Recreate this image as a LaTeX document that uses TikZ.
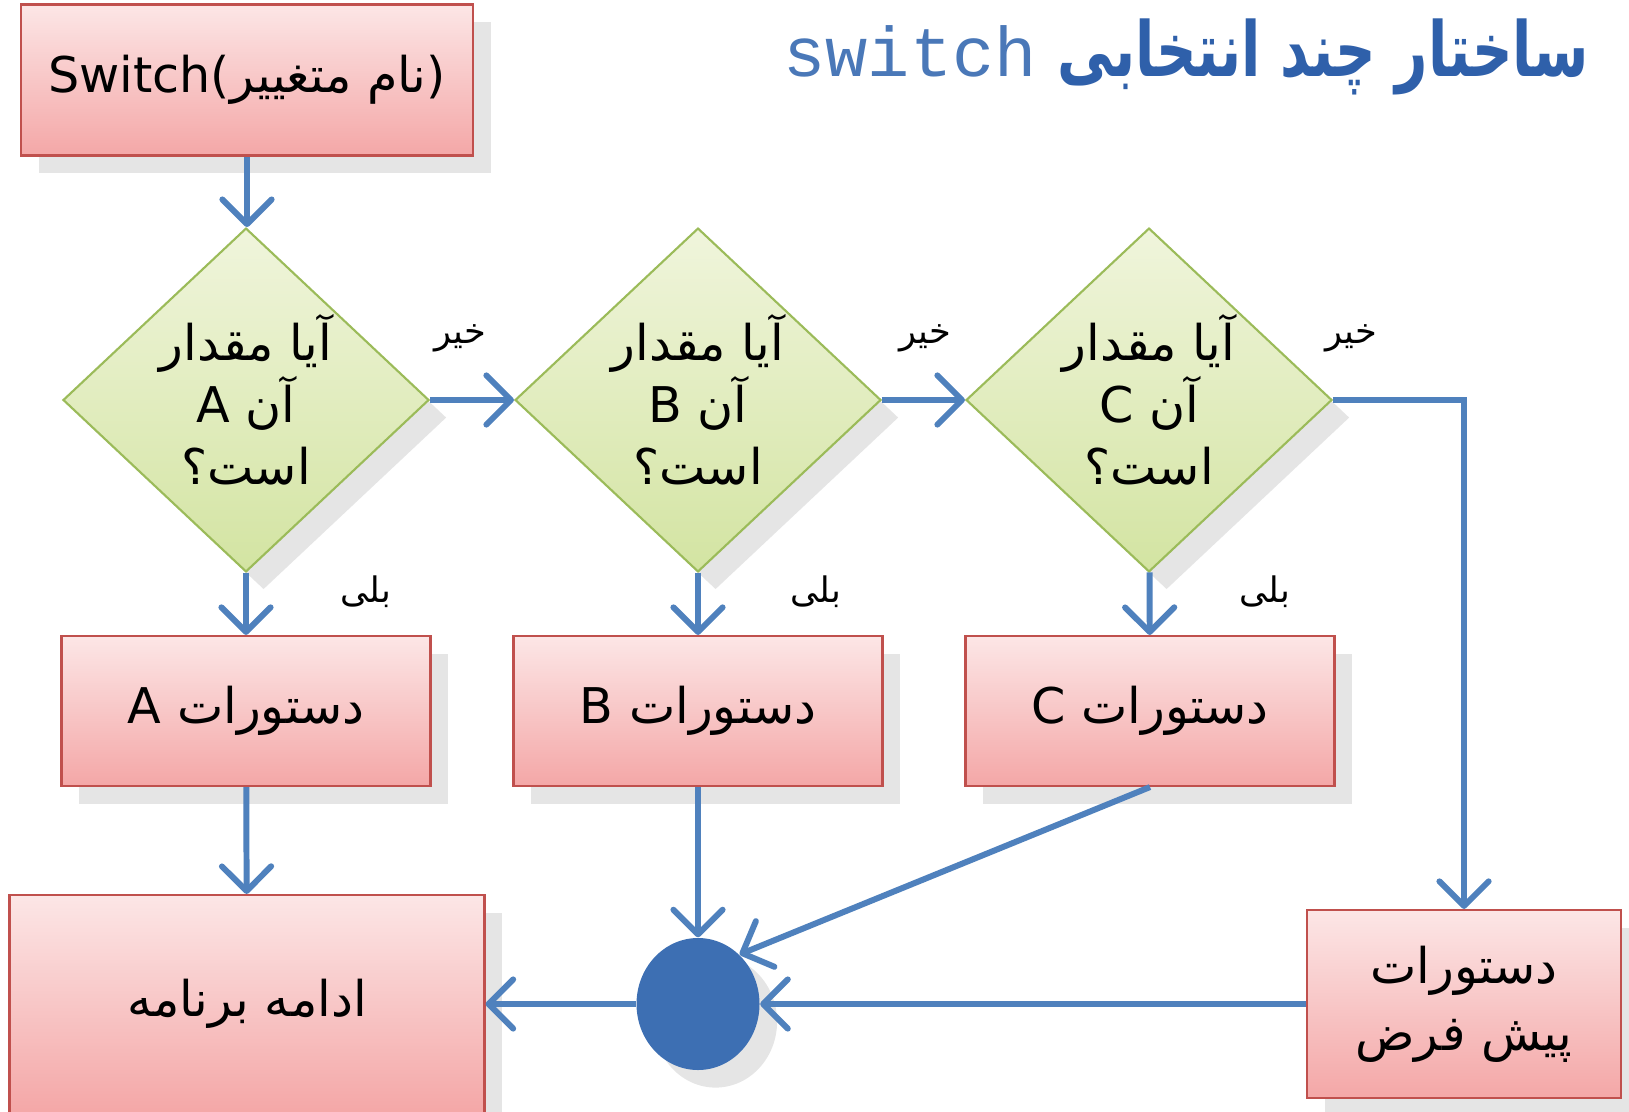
\documentclass[tikz,border=0pt]{standalone}
\usepackage{fontspec}
\setmainfont{DejaVu Sans}
\setmonofont{Liberation Mono}
\newfontfamily\fafont[Script=Arabic]{DejaVu Sans}
\TeXXeTstate=1
\usetikzlibrary{shapes.geometric,arrows.meta,shadows,positioning}

\definecolor{boxtop}{HTML}{FCE6E6}
\definecolor{boxbot}{HTML}{F4A7A7}
\definecolor{boxline}{HTML}{C0504D}
\definecolor{dectop}{HTML}{F0F5DC}
\definecolor{decbot}{HTML}{D3E4A2}
\definecolor{decline}{HTML}{9BBB59}
\definecolor{flowblue}{HTML}{4F81BD}
\definecolor{joinblue}{HTML}{3D6FB3}
\definecolor{titleblue}{HTML}{2F60AA}
\definecolor{monoblue}{HTML}{4A78B8}

\tikzset{
  stepbox/.style={rectangle,draw=boxline,line width=0.6pt,top color=boxtop,bottom color=boxbot,
    font=\fafont\fontsize{14}{19}\selectfont,align=center,
    drop shadow={opacity=0.2,shadow xshift=5pt,shadow yshift=-5pt}},
  decision/.style={diamond,draw=decline,line width=0.6pt,top color=dectop,bottom color=decbot,
    inner sep=0pt,minimum width=3.66cm,minimum height=3.26cm,align=center,
    font=\fafont\fontsize{14}{17.7}\selectfont,
    drop shadow={opacity=0.2,shadow xshift=5pt,shadow yshift=-5pt}},
  joinpt/.style={ellipse,fill=joinblue,inner sep=0pt,minimum width=1.23cm,minimum height=1.32cm,
    drop shadow={opacity=0.2,shadow xshift=5pt,shadow yshift=-5pt}},
  answer/.style={font=\fafont\fontsize{10}{12}\selectfont,inner sep=0pt},
  flow/.style={draw=flowblue,line width=1.7pt,-{Straight Barb[length=7pt,width=14pt,round]}}
}

\begin{document}
\begin{tikzpicture}
  \fill[white] (0,0) rectangle (16.29,-11.12);
  \useasboundingbox (0,0) rectangle (16.29,-11.12);

  % title
  \node[anchor=east,inner sep=0pt] (title) at (15.90,-0.57)
    {{\ttfamily\color{monoblue}\fontsize{20}{24}\selectfont switch}\hspace{6pt}%
     {\fafont\bfseries\color{titleblue}\fontsize{16}{20}\selectfont\scalebox{1}[1.35]{\beginR ساختار چند انتخابی\endR}}};

  % start
  \node[stepbox,minimum width=4.52cm,minimum height=1.51cm] (sw) at (2.47,-0.80)
    {{\rmfamily Switch(}\beginR نام متغییر\endR{\rmfamily )}};

  % tests
  \node[decision] (dA) at (2.46,-4.00) {\beginR آیا مقدار\endR\\\beginR آن A\endR\\\beginR است؟\endR};
  \node[decision] (dB) at (6.98,-4.00) {\beginR آیا مقدار\endR\\\beginR آن B\endR\\\beginR است؟\endR};
  \node[decision] (dC) at (11.49,-4.00) {\beginR آیا مقدار\endR\\\beginR آن C\endR\\\beginR است؟\endR};

  % statements
  \node[stepbox,minimum width=3.69cm,minimum height=1.50cm] (bA) at (2.46,-7.11) {\beginR دستورات A\endR};
  \node[stepbox,minimum width=3.69cm,minimum height=1.50cm] (bB) at (6.98,-7.11) {\beginR دستورات B\endR};
  \node[stepbox,minimum width=3.69cm,minimum height=1.50cm] (bC) at (11.50,-7.11) {\beginR دستورات C\endR};

  \node[stepbox,minimum width=3.14cm,minimum height=1.88cm] (dflt) at (14.64,-10.04)
    {\beginR دستورات\endR\\\beginR پیش فرض\endR};
  \node[joinpt] (jn) at (6.98,-10.04) {};
  \node[stepbox,minimum width=4.75cm,minimum height=2.18cm] (cont) at (2.47,-10.04) {\beginR ادامه برنامه\endR};

  % yes / no
  \node[answer] (nA) at (4.60,-3.38) {\beginR خیر\endR};
  \node[answer] (nB) at (9.25,-3.38) {\beginR خیر\endR};
  \node[answer] (nC) at (13.51,-3.38) {\beginR خیر\endR};
  \node[answer] (yA) at (3.66,-5.92) {\beginR بلی\endR};
  \node[answer] (yB) at (8.16,-5.92) {\beginR بلی\endR};
  \node[answer] (yC) at (12.65,-5.92) {\beginR بلی\endR};

  % arrows
  \draw[flow] (sw.south) -- (sw.south |- dA.north);
  \draw[flow] (dA) -- (dB);
  \draw[flow] (dB) -- (dC);
  \draw[flow] (dC.east) -| (dflt.north);
  \draw[flow] (dA) -- (bA);
  \draw[flow] (dB) -- (bB);
  \draw[flow] (dC) -- (bC);
  \draw[flow] (bA) -- (cont);
  \draw[flow] (bB) -- (jn);
  \draw[flow] (bC.south) -- (jn.50);
  \draw[flow] (dflt) -- (jn);
  \draw[flow] (jn) -- (cont);
\end{tikzpicture}
\end{document}
